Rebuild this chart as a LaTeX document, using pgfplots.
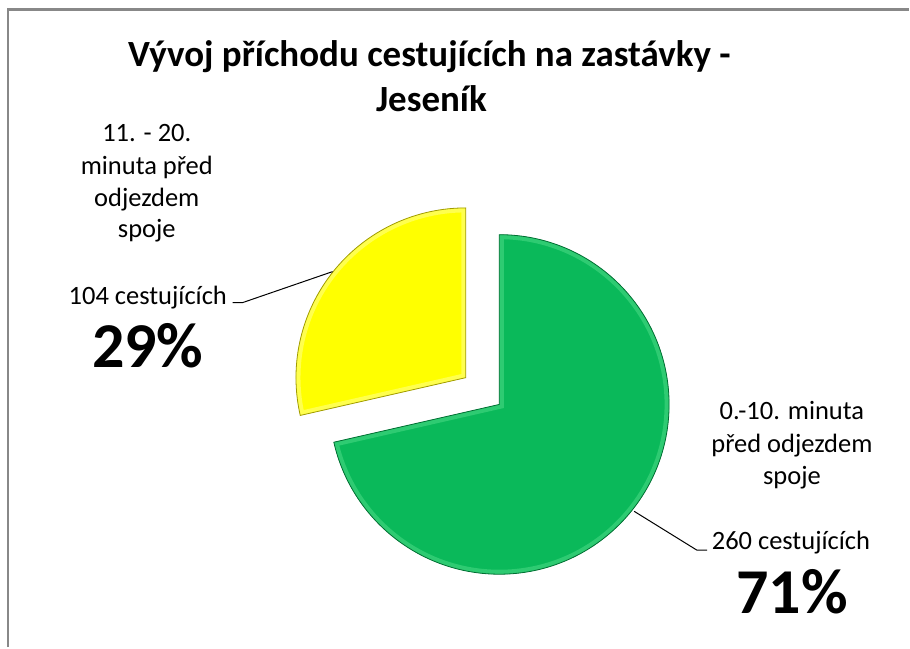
\documentclass[border=0pt]{standalone}
\usepackage{pgfplots}
\pgfplotsset{compat=1.18}
\usepackage{pgfplotstable}
\usepackage{fontspec}
\setmainfont{Carlito}

\definecolor{pgreen}{RGB}{10,185,90}
\definecolor{pgreenlight}{RGB}{70,215,130}
\definecolor{pgreendark}{RGB}{0,110,50}
\definecolor{pyellow}{RGB}{255,255,0}
\definecolor{pyellowlight}{RGB}{255,255,130}
\definecolor{pyellowdark}{RGB}{160,155,0}
\definecolor{frame}{RGB}{136,136,136}

\pgfplotstableread{
cat value
a 260
b 104
}\piedata

\pgfplotstablegetelem{0}{value}\of\piedata
\edef\va{\pgfplotsretval}
\pgfplotstablegetelem{1}{value}\of\piedata
\edef\vb{\pgfplotsretval}
\pgfmathsetmacro\tot{\va+\vb}
\pgfmathsetmacro\fa{\va/\tot}
\pgfmathsetmacro\fb{\vb/\tot}
\pgfmathsetmacro\ga{90-360*\fa}
\pgfmathsetmacro\yb{90+360*\fb}
\pgfmathsetmacro\ym{90+180*\fb}
\pgfmathsetmacro\cx{500}
\pgfmathsetmacro\cy{405}
\pgfmathsetmacro\yx{\cx+43*cos(\ym)}
\pgfmathsetmacro\yy{\cy-43*sin(\ym)}

\newcommand\labfont{\fontsize{26.5}{32}\selectfont}
\newcommand\bigfont{\fontsize{64}{72}\selectfont\bfseries}
\newcommand\titfont{\fontsize{37}{45}\selectfont\bfseries}

\begin{document}
\begin{tikzpicture}
\begin{axis}[
  width=910pt, height=648pt, scale only axis,
  xmin=0, xmax=910, ymin=0, ymax=648, y dir=reverse,
  hide axis, clip=false]
% page extent
\path (axis cs:0,0) rectangle (axis cs:910,648);
% frame
\draw[frame, line width=2.5pt] (axis cs:8,648) -- (axis cs:8,9.5) -- (axis cs:910,9.5);

% green sector
\def\gsec{(axis cs:\cx,\cy) -- ++(90:170pt) arc[start angle=90,end angle=\ga,radius=170pt] -- cycle}
\fill[pgreen] \gsec;
\begin{scope}
\clip \gsec;
\draw[pgreenlight, line width=9pt, opacity=0.6] \gsec;
\end{scope}
\draw[pgreendark, line width=0.8pt] \gsec;

% yellow sector (exploded)
\def\ysec{(axis cs:\yx,\yy) -- ++(90:170pt) arc[start angle=90,end angle=\yb,radius=170pt] -- cycle}
\fill[pyellow] \ysec;
\begin{scope}
\clip \ysec;
\draw[pyellowlight, line width=9pt, opacity=0.6] \ysec;
\end{scope}
\draw[pyellowdark, line width=0.8pt] \ysec;

% leader lines
\draw[black, line width=1pt] (axis cs:233,303) -- (axis cs:243,303) -- (axis cs:333,272);
\draw[black, line width=1pt] (axis cs:635,512) -- (axis cs:698,551) -- (axis cs:708,551);

% title
\node[anchor=base, inner sep=0pt] at (axis cs:430,67) {\titfont Vývoj příchodu cestujících na zastávky -};
\node[anchor=base, inner sep=0pt] at (axis cs:432,112) {\titfont Jeseník};

% left labels
\node[anchor=base, inner sep=0pt] at (axis cs:147,142) {\labfont 11. - 20.};
\node[anchor=base, inner sep=0pt] at (axis cs:147,175) {\labfont minuta před};
\node[anchor=base, inner sep=0pt] at (axis cs:147,207) {\labfont odjezdem};
\node[anchor=base, inner sep=0pt] at (axis cs:147,238) {\labfont spoje};
\node[anchor=base, inner sep=0pt] at (axis cs:148,305) {\labfont 104 cestujících};
\node[anchor=base, inner sep=0pt] at (axis cs:148,368) {\bigfont 29\%};

% right labels
\node[anchor=base, inner sep=0pt] at (axis cs:793,420) {\labfont 0.-10. minuta};
\node[anchor=base, inner sep=0pt] at (axis cs:793,453) {\labfont před odjezdem};
\node[anchor=base, inner sep=0pt] at (axis cs:793,485) {\labfont spoje};
\node[anchor=base, inner sep=0pt] at (axis cs:792,550) {\labfont 260 cestujících};
\node[anchor=base, inner sep=0pt] at (axis cs:793,614) {\bigfont 71\%};
\end{axis}
\end{tikzpicture}
\end{document}
